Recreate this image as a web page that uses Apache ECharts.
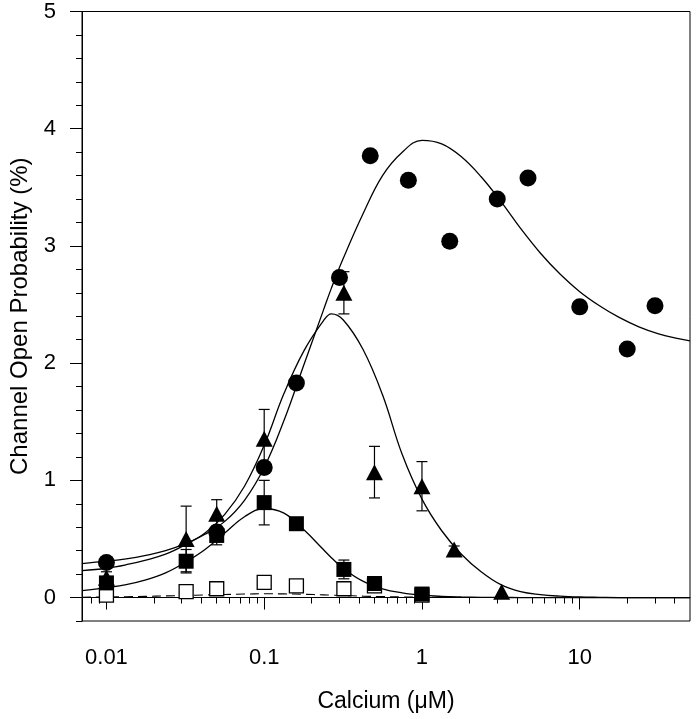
<!DOCTYPE html>
<html>
<head>
<meta charset="utf-8">
<script src="https://cdn.jsdelivr.net/npm/echarts@6/dist/echarts.min.js"></script>
<style>
html,body{margin:0;padding:0;background:#fff;}
#chart{width:696px;height:719px;}
</style>
</head>
<body>
<div id="chart"></div>
<script>
// ---- data ----
const circleX = [0.01, 0.05, 0.1, 0.16, 0.3, 0.47, 0.82, 1.5, 3, 4.7, 10, 20, 30];
const circleY = [0.30, 0.56, 1.11, 1.83, 2.73, 3.77, 3.56, 3.04, 3.40, 3.58, 2.48, 2.12, 2.49];

const triX = [0.01, 0.032, 0.05, 0.1, 0.32, 0.5, 1.0, 1.6, 3.2];
const triY = [0.17, 0.50, 0.715, 1.355, 2.60, 1.07, 0.95, 0.41, 0.05];
const triErr = [0.05, 0.28, 0.12, 0.25, 0.18, 0.22, 0.21, 0.03, 0.0];

const sqX = [0.01, 0.032, 0.05, 0.1, 0.16, 0.32, 0.5, 1.0];
const sqY = [0.125, 0.31, 0.53, 0.81, 0.63, 0.24, 0.12, 0.03];
const sqErr = [0.03, 0.10, 0.08, 0.19, 0.02, 0.08, 0.02, 0.01];

const openX = [0.01, 0.032, 0.05, 0.1, 0.16, 0.32, 0.5, 1.0];
const openY = [0.02, 0.05, 0.075, 0.13, 0.10, 0.075, 0.10, 0.02];

// fitted curves, read at about 1/8-decade steps
const fitX = [0.007, 0.01, 0.01334, 0.01778, 0.02371, 0.03162, 0.04217, 0.05623, 0.07499, 0.1,
  0.1334, 0.1778, 0.2371, 0.2667, 0.3162, 0.4217, 0.5623, 0.7499, 1, 1.334, 1.778, 2.371, 3.162, 4.217,
  5.623, 7.499, 10, 13.34, 17.78, 23.71, 31.62, 42.17, 50];
const fitCircle = [0.29, 0.31, 0.33, 0.36, 0.40, 0.46, 0.54, 0.65, 0.83, 1.11,
  1.51, 1.98, 2.45, 2.64, 2.89, 3.27, 3.60, 3.80, 3.90, 3.87, 3.76, 3.59, 3.38, 3.15,
  2.94, 2.76, 2.61, 2.49, 2.39, 2.31, 2.25, 2.21, 2.19];
const fitTri = [0.23, 0.25, 0.28, 0.32, 0.37, 0.45, 0.55, 0.71, 0.95, 1.30,
  1.74, 2.10, 2.36, 2.42, 2.37, 2.12, 1.73, 1.22, 0.84, 0.57, 0.37, 0.22, 0.11, 0.05,
  0.025, 0.012, 0.005, 0.002, 0, 0, 0, 0, 0];
const fitSq = [0.06, 0.085, 0.11, 0.15, 0.21, 0.30, 0.41, 0.55, 0.69, 0.76,
  0.72, 0.58, 0.41, 0.34, 0.25, 0.14, 0.075, 0.04, 0.02, 0.01, 0.005, 0.002, 0.001, 0,
  0, 0, 0, 0, 0, 0, 0, 0, 0];
const fitOpen = [0.003, 0.005, 0.007, 0.010, 0.014, 0.018, 0.022, 0.026, 0.030, 0.032,
  0.031, 0.028, 0.023, 0.021, 0.018, 0.012, 0.008, 0.005, 0.003, 0.002, 0.001, 0, 0, 0,
  0, 0, 0, 0, 0, 0, 0, 0, 0];

const xMajorTicks = [0.01, 0.1, 1, 10];
const xMinorTicks = [0.007, 0.008, 0.009, 0.02, 0.03, 0.04, 0.05, 0.06, 0.07, 0.08, 0.09,
  0.2, 0.3, 0.4, 0.5, 0.6, 0.7, 0.8, 0.9, 2, 3, 4, 5, 6, 7, 8, 9, 20, 30, 40];
const yMajorTicks = [0, 1, 2, 3, 4, 5];
const yMinorTicks = [-0.2, 0.2, 0.4, 0.6, 0.8, 1.2, 1.4, 1.6, 1.8, 2.2, 2.4, 2.6, 2.8,
  3.2, 3.4, 3.6, 3.8, 4.2, 4.4, 4.6, 4.8];

const xTitle = 'Calcium (\u03bcM)';
const yTitle = 'Channel Open Probability (%)';

// ---- build ----
const zip = (a, b) => a.map((v, i) => [v, b[i]]);
const zip3 = (a, b, c) => a.map((v, i) => [v, b[i], c[i]]);
const FONT = '"Liberation Sans", Arial, Helvetica, sans-serif';

function errRender(params, api) {
  const x = api.value(0), y = api.value(1), e = api.value(2);
  if (!e) return null;
  const t = api.coord([x, y + e]);
  const b = api.coord([x, y - e]);
  const hw = 5.5;
  const st = { stroke: '#000', lineWidth: 1.2 };
  return {
    type: 'group',
    children: [
      { type: 'line', shape: { x1: t[0], y1: t[1], x2: b[0], y2: b[1] }, style: st },
      { type: 'line', shape: { x1: t[0] - hw, y1: t[1], x2: t[0] + hw, y2: t[1] }, style: st },
      { type: 'line', shape: { x1: b[0] - hw, y1: b[1], x2: b[0] + hw, y2: b[1] }, style: st }
    ]
  };
}

const lineBase = {
  type: 'line', smooth: 0.4, showSymbol: false, symbol: 'none',
  silent: true, z: 2, clip: true
};

const option = {
  animation: false,
  backgroundColor: '#fff',
  grid: { left: 81.5, right: 6, top: 11.5, bottom: 98, show: true, borderColor: '#000', borderWidth: 1, backgroundColor: 'transparent' },
  xAxis: [
    {
      type: 'log', logBase: 10, min: 0.007, max: 50,
      name: xTitle, nameLocation: 'middle', nameGap: 69,
      nameTextStyle: { fontFamily: FONT, fontSize: 23, color: '#000' },
      axisLine: { show: true, lineStyle: { color: '#000', width: 1 } },
      axisTick: { show: true, inside: false, length: 12, customValues: xMajorTicks, lineStyle: { color: '#000', width: 1 } },
      axisLabel: { show: true, customValues: xMajorTicks, margin: 26, fontFamily: FONT, fontSize: 22, color: '#000',
        formatter: v => String(+v.toPrecision(6)) },
      splitLine: { show: false }, minorTick: { show: false }
    },
    {
      type: 'log', logBase: 10, min: 0.007, max: 50, gridIndex: 0, position: 'bottom',
      axisLine: { show: false },
      axisTick: { show: true, inside: false, length: 6, customValues: xMinorTicks, lineStyle: { color: '#000', width: 1 } },
      axisLabel: { show: false },
      splitLine: { show: false }
    }
  ],
  yAxis: [
    {
      type: 'value', min: -0.2, max: 5,
      name: yTitle, nameLocation: 'middle', nameGap: 50,
      nameTextStyle: { fontFamily: FONT, fontSize: 24, color: '#000' },
      axisLine: { show: true, lineStyle: { color: '#000', width: 1 } },
      axisTick: { show: true, inside: false, length: 12, customValues: yMajorTicks, lineStyle: { color: '#000', width: 1 } },
      axisLabel: { show: true, customValues: yMajorTicks, margin: 26, fontFamily: FONT, fontSize: 22, color: '#000' },
      splitLine: { show: false }
    },
    {
      type: 'value', min: -0.2, max: 5, position: 'left',
      axisLine: { show: false },
      axisTick: { show: true, inside: false, length: 6, customValues: yMinorTicks, lineStyle: { color: '#000', width: 1 } },
      axisLabel: { show: false },
      splitLine: { show: false }
    }
  ],
  series: [
    Object.assign({}, lineBase, { name: 'fitOpen', data: zip(fitX, fitOpen), lineStyle: { color: '#000', width: 1.1, type: [9, 5] } }),
    Object.assign({}, lineBase, { name: 'fitSq', data: zip(fitX, fitSq), lineStyle: { color: '#000', width: 1.3 } }),
    Object.assign({}, lineBase, { name: 'fitTri', data: zip(fitX, fitTri), lineStyle: { color: '#000', width: 1.3 } }),
    Object.assign({}, lineBase, { name: 'fitCircle', data: zip(fitX, fitCircle), lineStyle: { color: '#000', width: 1.3 } }),
    { type: 'custom', name: 'triErr', renderItem: errRender, data: zip3(triX, triY, triErr), z: 3, silent: true },
    { type: 'custom', name: 'sqErr', renderItem: errRender, data: zip3(sqX, sqY, sqErr), z: 3, silent: true },
    { type: 'scatter', name: 'open', data: zip(openX, openY), symbol: 'rect', symbolSize: 14, z: 4,
      itemStyle: { color: '#fff', borderColor: '#000', borderWidth: 1.3, opacity: 1 } },
    { type: 'scatter', name: 'circle', data: zip(circleX, circleY), symbol: 'circle', symbolSize: 17, z: 5,
      itemStyle: { color: '#000', opacity: 1 } },
    { type: 'scatter', name: 'tri', data: zip(triX, triY), symbol: 'triangle', symbolSize: [17, 16], z: 6,
      itemStyle: { color: '#000', opacity: 1 } },
    { type: 'scatter', name: 'sq', data: zip(sqX, sqY), symbol: 'rect', symbolSize: 15, z: 7,
      itemStyle: { color: '#000', opacity: 1 } }
  ]
};

const chart = echarts.init(document.getElementById('chart'), null, { renderer: 'canvas' });
chart.setOption(option);
</script>
</body>
</html>
